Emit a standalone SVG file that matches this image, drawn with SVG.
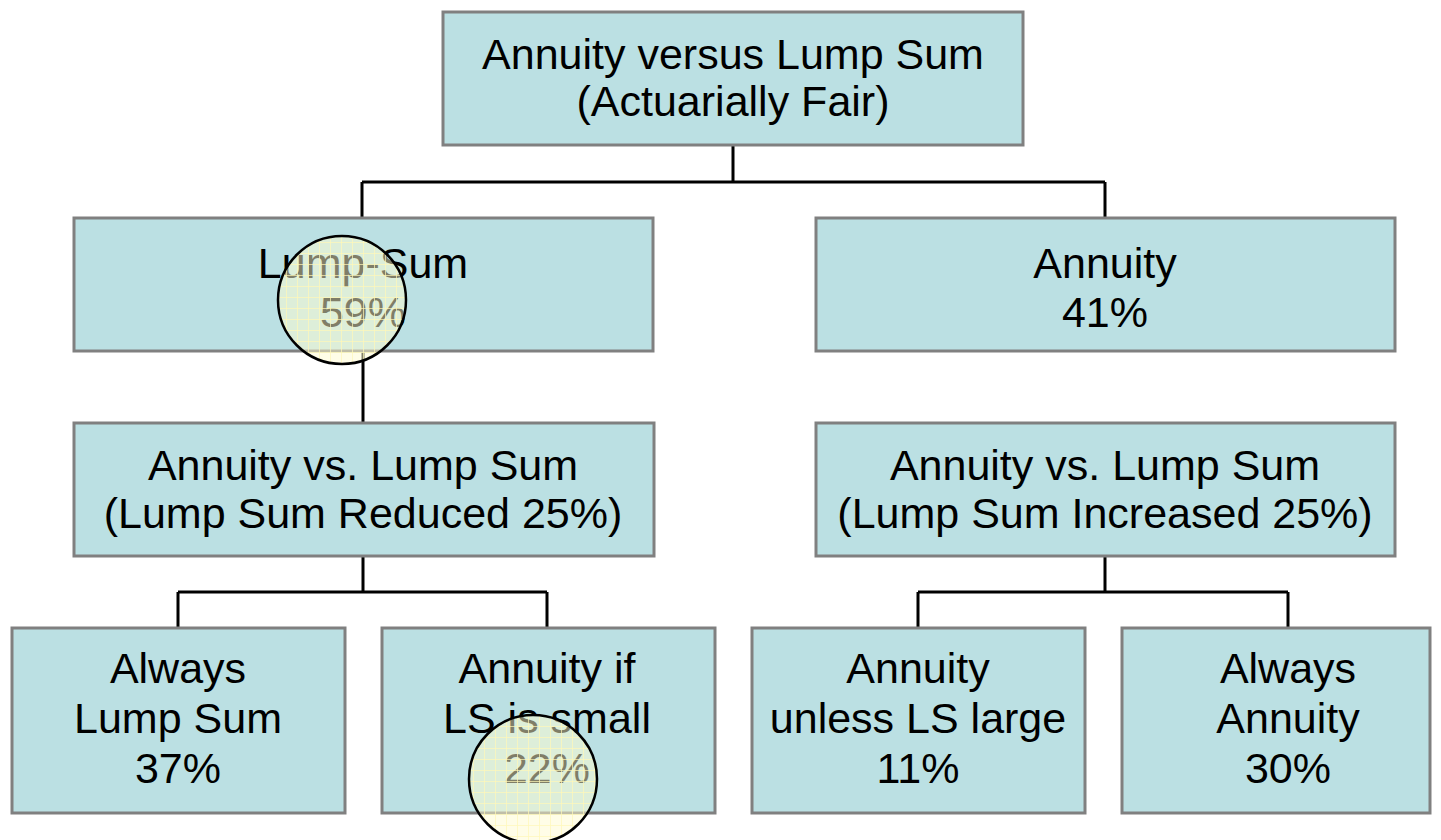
<svg xmlns="http://www.w3.org/2000/svg" width="1441" height="840" viewBox="0 0 1441 840">
<defs>
<style>
.box{fill:#bbe0e3;stroke:#808080;stroke-width:3}
.t{font-family:"Liberation Sans",Arial,sans-serif;font-size:43px;fill:#000;text-anchor:middle}
.c{fill:none;stroke:#000;stroke-width:3}
.lens{fill:#fffcd0;fill-opacity:0.5}
.lensrim{fill:url(#grid);stroke:#000;stroke-width:2.5}
</style>
<pattern id="grid" width="11" height="11" patternUnits="userSpaceOnUse">
<path d="M0 0.5H11M0.5 0V11" stroke="#fff8b8" stroke-width="1" fill="none" opacity="0.7"/>
</pattern>
</defs>
<rect width="1441" height="840" fill="#fff"/>
<g id="connectors">
<path class="c" d="M733 145V182M362 182H1105M362 182V218M1105 182V218"/>
<path class="c" d="M363 351V423"/>
<path class="c" d="M363 556V592M178 592H547M178 592V628M547 592V628"/>
<path class="c" d="M1105 556V592M918 592H1288M918 592V628M1288 592V628"/>
</g>
<g id="n-root">
<rect class="box" x="443" y="12" width="580" height="133"/>
<text class="t" x="733" y="69">Annuity versus Lump Sum</text>
<text class="t" x="733" y="116">(Actuarially Fair)</text>
</g>
<g id="n-lumpsum">
<rect class="box" x="74" y="218" width="579" height="133"/>
<text class="t" x="363" y="278">Lump-Sum</text>
<text class="t" x="363" y="327">59%</text>
</g>
<g id="n-annuity">
<rect class="box" x="816" y="218" width="579" height="133"/>
<text class="t" x="1105" y="278">Annuity</text>
<text class="t" x="1105" y="327">41%</text>
</g>
<g id="n-reduced">
<rect class="box" x="74" y="423" width="580" height="133"/>
<text class="t" x="363" y="480">Annuity vs. Lump Sum</text>
<text class="t" x="363" y="528">(Lump Sum Reduced 25%)</text>
</g>
<g id="n-increased">
<rect class="box" x="816" y="423" width="579" height="133"/>
<text class="t" x="1105" y="480">Annuity vs. Lump Sum</text>
<text class="t" x="1105" y="528">(Lump Sum Increased 25%)</text>
</g>
<g id="n-always-ls">
<rect class="box" x="12" y="628" width="333" height="185"/>
<text class="t" x="178" y="683">Always</text>
<text class="t" x="178" y="733">Lump Sum</text>
<text class="t" x="178" y="783">37%</text>
</g>
<g id="n-annuity-small">
<rect class="box" x="382" y="628" width="333" height="185"/>
<text class="t" x="547" y="683">Annuity if</text>
<text class="t" x="547" y="733">LS is small</text>
<text class="t" x="547" y="783">22%</text>
</g>
<g id="n-annuity-unless">
<rect class="box" x="752" y="628" width="333" height="185"/>
<text class="t" x="918" y="683">Annuity</text>
<text class="t" x="918" y="733">unless LS large</text>
<text class="t" x="918" y="783">11%</text>
</g>
<g id="n-always-ann">
<rect class="box" x="1122" y="628" width="308" height="185"/>
<text class="t" x="1288" y="683">Always</text>
<text class="t" x="1288" y="733">Annuity</text>
<text class="t" x="1288" y="783">30%</text>
</g>
<g id="lens1">
<circle class="lens" cx="342" cy="300" r="64"/>
<circle class="lensrim" cx="342" cy="300" r="64"/>
</g>
<g id="lens2">
<circle class="lens" cx="533" cy="779" r="64"/>
<circle class="lensrim" cx="533" cy="779" r="64"/>
</g>
</svg>
